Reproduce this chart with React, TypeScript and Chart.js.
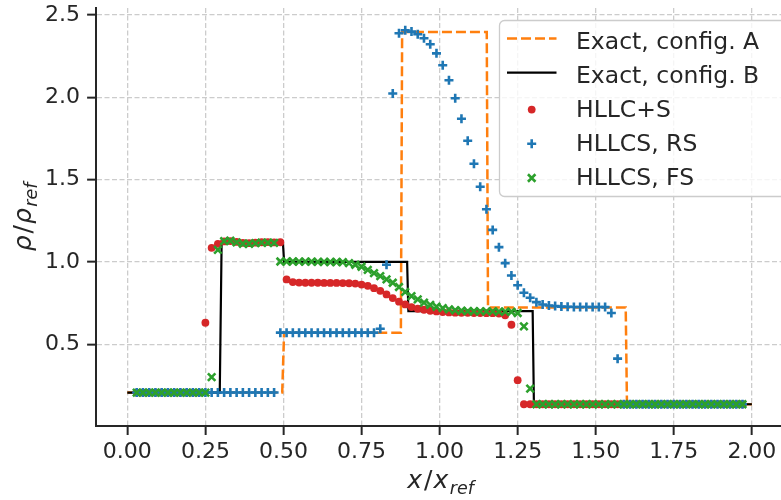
import React, { useEffect, useRef } from "react";
import { Chart, registerables } from "chart.js";

Chart.register(...registerables);

// Cell centres of the numerical grid
const cellX: number[] = [
  0.03, 0.05, 0.07, 0.09, 0.11, 0.13, 0.15, 0.17, 0.19, 0.21, 0.23, 0.25, 0.27, 0.29,
  0.31, 0.33, 0.35, 0.37, 0.39, 0.41, 0.43, 0.45, 0.47, 0.49, 0.51, 0.53, 0.55, 0.57,
  0.59, 0.61, 0.63, 0.65, 0.67, 0.69, 0.71, 0.73, 0.75, 0.77, 0.79, 0.81, 0.83, 0.85,
  0.87, 0.89, 0.91, 0.93, 0.95, 0.97, 0.99, 1.01, 1.03, 1.05, 1.07, 1.09, 1.11, 1.13,
  1.15, 1.17, 1.19, 1.21, 1.23, 1.25, 1.27, 1.29, 1.31, 1.33, 1.35, 1.37, 1.39, 1.41,
  1.43, 1.45, 1.47, 1.49, 1.51, 1.53, 1.55, 1.57, 1.59, 1.61, 1.63, 1.65, 1.67, 1.69,
  1.71, 1.73, 1.75, 1.77, 1.79, 1.81, 1.83, 1.85, 1.87, 1.89, 1.91, 1.93, 1.95, 1.97,
];

// HLLC+S density
const hllcS: number[] = [
  0.206, 0.206, 0.206, 0.206, 0.206, 0.206, 0.206, 0.206, 0.206, 0.206, 0.206, 0.63, 1.085, 1.109,
  1.124, 1.126, 1.121, 1.115, 1.113, 1.116, 1.119, 1.12, 1.118, 1.119, 0.893, 0.877, 0.874, 0.873,
  0.873, 0.873, 0.872, 0.872, 0.872, 0.871, 0.87, 0.868, 0.862, 0.854, 0.84, 0.824, 0.802, 0.78,
  0.758, 0.741, 0.725, 0.715, 0.709, 0.703, 0.699, 0.695, 0.693, 0.691, 0.69, 0.69, 0.689, 0.689,
  0.688, 0.688, 0.686, 0.675, 0.618, 0.281, 0.135, 0.135, 0.135, 0.135, 0.135, 0.135, 0.135, 0.135,
  0.135, 0.135, 0.135, 0.135, 0.135, 0.135, 0.135, 0.135, 0.135, 0.135, 0.135, 0.135, 0.135, 0.135,
  0.135, 0.135, 0.135, 0.135, 0.135, 0.135, 0.135, 0.135, 0.135, 0.135, 0.135, 0.135, 0.135, 0.135,
];

// HLLCS, RS density
const hllcsRS: number[] = [
  0.206, 0.206, 0.206, 0.206, 0.206, 0.206, 0.206, 0.206, 0.206, 0.206, 0.206, 0.206, 0.206, 0.206,
  0.206, 0.206, 0.206, 0.206, 0.206, 0.206, 0.206, 0.206, 0.206, 0.57, 0.57, 0.57, 0.57, 0.57,
  0.57, 0.57, 0.57, 0.57, 0.57, 0.57, 0.57, 0.57, 0.57, 0.57, 0.57, 0.594, 0.982, 2.022,
  2.388, 2.406, 2.398, 2.382, 2.358, 2.321, 2.266, 2.194, 2.103, 1.993, 1.869, 1.735, 1.596, 1.456,
  1.319, 1.194, 1.089, 0.992, 0.917, 0.858, 0.812, 0.782, 0.755, 0.741, 0.735, 0.731, 0.728, 0.727,
  0.726, 0.726, 0.726, 0.726, 0.726, 0.725, 0.689, 0.412, 0.135, 0.135, 0.135, 0.135, 0.135, 0.135,
  0.135, 0.135, 0.135, 0.135, 0.135, 0.135, 0.135, 0.135, 0.135, 0.135, 0.135, 0.135, 0.135, 0.135,
];

// HLLCS, FS density
const hllcsFS: number[] = [
  0.206, 0.206, 0.206, 0.206, 0.206, 0.206, 0.206, 0.206, 0.206, 0.206, 0.206, 0.206, 0.3, 1.073,
  1.126, 1.128, 1.118, 1.11, 1.11, 1.114, 1.117, 1.116, 1.115, 1.002, 1.002, 1.002, 1.001, 1.001,
  1.001, 1.0, 1.0, 0.999, 0.999, 0.998, 0.992, 0.982, 0.97, 0.951, 0.931, 0.913, 0.893, 0.873,
  0.847, 0.817, 0.792, 0.772, 0.752, 0.739, 0.727, 0.719, 0.711, 0.706, 0.703, 0.701, 0.7, 0.699,
  0.699, 0.699, 0.698, 0.698, 0.697, 0.689, 0.608, 0.23, 0.135, 0.135, 0.135, 0.135, 0.135, 0.135,
  0.135, 0.135, 0.135, 0.135, 0.135, 0.135, 0.135, 0.135, 0.135, 0.135, 0.135, 0.135, 0.135, 0.135,
  0.135, 0.135, 0.135, 0.135, 0.135, 0.135, 0.135, 0.135, 0.135, 0.135, 0.135, 0.135, 0.135, 0.135,
];

// Exact solutions (piecewise constant states)
const exactAX: number[] = [0, 0.496, 0.502, 0.876, 0.88, 1.151, 1.155, 1.596, 1.6, 2.0];
const exactAY: number[] = [0.206, 0.206, 0.57, 0.57, 2.395, 2.395, 0.723, 0.723, 0.135, 0.135];
const exactBX: number[] = [0, 0.296, 0.302, 0.498, 0.502, 0.896, 0.9, 1.298, 1.302, 2.0];
const exactBY: number[] = [0.206, 0.206, 1.125, 1.125, 1.0, 1.0, 0.7, 0.7, 0.135, 0.135];

const seriesLabels: string[] = [
  "Exact, config. A",
  "Exact, config. B",
  "HLLC+S",
  "HLLCS, RS",
  "HLLCS, FS",
];

const xTicks: number[] = [0, 0.25, 0.5, 0.75, 1.0, 1.25, 1.5, 1.75, 2.0];
const yTicks: number[] = [0.5, 1.0, 1.5, 2.0, 2.5];

const C_ORANGE = "#ff7f0e";
const C_BLACK = "#000000";
const C_RED = "#d62728";
const C_BLUE = "#1f77b4";
const C_GREEN = "#2ca02c";
const C_TEXT = "#262626";
const FONT = "DejaVu Sans";

const W = 800;
const H = 500;
const AREA = { left: 96.1, right: 783.1, top: 7, bottom: 426 };

const MARK = { dot: 3.9, plus: 4.5, cross: 5.3, stroke: 2.6 };

type Part = { t: string; italic: boolean; sub?: boolean; gap?: number };

function drawMath(ctx: CanvasRenderingContext2D, parts: Part[], size: number) {
  const fontOf = (p: Part) =>
    `${p.italic ? "italic " : ""}${p.sub ? size * 0.7 : size}px "${FONT}"`;
  const widths = parts.map((p) => {
    ctx.font = fontOf(p);
    return ctx.measureText(p.t).width + (p.gap || 0);
  });
  const total = widths.reduce((a, b) => a + b, 0);
  let x = -total / 2;
  ctx.textAlign = "left";
  ctx.textBaseline = "alphabetic";
  parts.forEach((p, i) => {
    ctx.font = fontOf(p);
    ctx.fillText(p.t, x, p.sub ? size * 0.25 : 0);
    x += widths[i];
  });
}

function drawMarker(ctx: CanvasRenderingContext2D, kind: string, cx: number, cy: number) {
  ctx.save();
  if (kind === "dot") {
    ctx.fillStyle = C_RED;
    ctx.beginPath();
    ctx.arc(cx, cy, MARK.dot, 0, Math.PI * 2);
    ctx.fill();
  } else {
    ctx.strokeStyle = kind === "plus" ? C_BLUE : C_GREEN;
    ctx.lineWidth = MARK.stroke;
    ctx.beginPath();
    if (kind === "plus") {
      const r = MARK.plus;
      ctx.moveTo(cx - r, cy);
      ctx.lineTo(cx + r, cy);
      ctx.moveTo(cx, cy - r);
      ctx.lineTo(cx, cy + r);
    } else {
      const r = MARK.cross * Math.SQRT1_2;
      ctx.moveTo(cx - r, cy - r);
      ctx.lineTo(cx + r, cy + r);
      ctx.moveTo(cx - r, cy + r);
      ctx.lineTo(cx + r, cy - r);
    }
    ctx.stroke();
  }
  ctx.restore();
}

const overlayPlugin = {
  id: "overlay",
  afterDraw(chart: Chart) {
    const ctx = chart.ctx;
    const area = chart.chartArea;
    ctx.save();
    ctx.fillStyle = C_TEXT;

    // x-axis title
    ctx.save();
    ctx.translate((area.left + area.right) / 2 + 1, 488);
    drawMath(ctx, [
      { t: "x", italic: true, gap: 2 },
      { t: "/", italic: false, gap: 1 },
      { t: "x", italic: true, gap: 1.5 },
      { t: "ref", italic: true, sub: true },
    ], 25);
    ctx.restore();

    // y-axis title
    ctx.save();
    ctx.translate(31, (area.top + area.bottom) / 2);
    ctx.rotate(-Math.PI / 2);
    drawMath(ctx, [
      { t: "ρ", italic: true, gap: 2 },
      { t: "/", italic: false, gap: 1 },
      { t: "ρ", italic: true, gap: 1.5 },
      { t: "ref", italic: true, sub: true },
    ], 25);
    ctx.restore();

    // legend box
    const bx = 499.5, by = 20.5, bw = 320, bh = 176, rr = 5;
    ctx.beginPath();
    ctx.moveTo(bx + rr, by);
    ctx.lineTo(bx + bw - rr, by);
    ctx.arcTo(bx + bw, by, bx + bw, by + rr, rr);
    ctx.lineTo(bx + bw, by + bh - rr);
    ctx.arcTo(bx + bw, by + bh, bx + bw - rr, by + bh, rr);
    ctx.lineTo(bx + rr, by + bh);
    ctx.arcTo(bx, by + bh, bx, by + bh - rr, rr);
    ctx.lineTo(bx, by + rr);
    ctx.arcTo(bx, by, bx + rr, by, rr);
    ctx.closePath();
    ctx.fillStyle = "rgba(255,255,255,0.8)";
    ctx.fill();
    ctx.lineWidth = 1.3;
    ctx.strokeStyle = "#cccccc";
    ctx.stroke();

    const pitch = 34.2;
    const capMid0 = 40.0;
    const hx0 = 507, hx1 = 556.5, hc = 531.7;
    seriesLabels.forEach((label, i) => {
      const mid = capMid0 + i * pitch;
      if (i === 0 || i === 1) {
        ctx.save();
        ctx.strokeStyle = i === 0 ? C_ORANGE : C_BLACK;
        ctx.lineWidth = i === 0 ? 2.5 : 2.2;
        ctx.setLineDash(i === 0 ? [10, 4] : []);
        ctx.beginPath();
        ctx.moveTo(hx0, mid - 1.5);
        ctx.lineTo(hx1, mid - 1.5);
        ctx.stroke();
        ctx.restore();
      } else {
        drawMarker(ctx, ["dot", "plus", "cross"][i - 2], hc, mid + 1.2);
      }
      ctx.fillStyle = C_TEXT;
      ctx.font = `23.5px "${FONT}"`;
      ctx.textAlign = "left";
      ctx.textBaseline = "alphabetic";
      ctx.fillText(label, 576, mid + 8.5);
    });

    ctx.restore();
  },
};

function pts(xs: number[], ys: number[]) {
  return xs.map((x, i) => ({ x, y: ys[i] }));
}

export default function App() {
  const canvasRef = useRef<HTMLCanvasElement | null>(null);

  useEffect(() => {
    const canvas = canvasRef.current;
    if (!canvas) return;
    Chart.defaults.font.family = FONT;

    const tickFont = { family: FONT, size: 22 };
    const gridCommon = {
      color: "#cccccc",
      lineWidth: 1.3,
      tickLength: 9,
      tickWidth: 2,
      tickColor: C_TEXT,
      tickBorderDash: [],
    };
    const borderCommon = { color: C_TEXT, width: 2, dash: [5, 2.5] };

    const chart = new Chart(canvas, {
      type: "scatter",
      data: {
        datasets: [
          {
            label: seriesLabels[0],
            data: pts(exactAX, exactAY),
            showLine: true,
            borderColor: C_ORANGE,
            borderWidth: 2.5,
            borderDash: [10, 4],
            pointRadius: 0,
            fill: false,
            order: 5,
          },
          {
            label: seriesLabels[1],
            data: pts(exactBX, exactBY),
            showLine: true,
            borderColor: C_BLACK,
            borderWidth: 2.2,
            pointRadius: 0,
            fill: false,
            order: 4,
          },
          {
            label: seriesLabels[2],
            data: pts(cellX, hllcS),
            pointStyle: "circle",
            pointRadius: MARK.dot,
            backgroundColor: C_RED,
            borderWidth: 0,
            order: 3,
          },
          {
            label: seriesLabels[3],
            data: pts(cellX, hllcsRS),
            pointStyle: "cross",
            pointRadius: MARK.plus,
            borderColor: C_BLUE,
            borderWidth: MARK.stroke,
            order: 2,
          },
          {
            label: seriesLabels[4],
            data: pts(cellX, hllcsFS),
            pointStyle: "crossRot",
            pointRadius: MARK.cross,
            borderColor: C_GREEN,
            borderWidth: MARK.stroke,
            order: 1,
          },
        ],
      },
      options: {
        responsive: false,
        animation: false,
        devicePixelRatio: 1,
        events: [],
        layout: {
          padding: { left: 0, top: AREA.top, right: W - AREA.right, bottom: 0 },
        },
        plugins: {
          legend: { display: false },
          tooltip: { enabled: false },
          title: { display: false },
        },
        scales: {
          x: {
            type: "linear",
            min: -0.1,
            max: 2.1,
            afterBuildTicks: (s: any) => {
              s.ticks = xTicks.map((v) => ({ value: v }));
            },
            afterFit: (s: any) => {
              s.height = H - AREA.bottom;
              s.paddingLeft = 0;
              s.paddingRight = 0;
            },
            ticks: {
              font: tickFont,
              color: C_TEXT,
              padding: 4,
              maxRotation: 0,
              autoSkip: false,
              callback: (v: any) => Number(v).toFixed(2),
            },
            grid: gridCommon,
            border: borderCommon,
          },
          y: {
            type: "linear",
            min: 0.003,
            max: 2.542,
            afterBuildTicks: (s: any) => {
              s.ticks = yTicks.map((v) => ({ value: v }));
            },
            afterFit: (s: any) => {
              s.width = AREA.left;
              s.paddingTop = 0;
              s.paddingBottom = 0;
            },
            ticks: {
              font: tickFont,
              color: C_TEXT,
              padding: 7,
              autoSkip: false,
              callback: (v: any) => Number(v).toFixed(1),
            },
            grid: gridCommon,
            border: borderCommon,
          },
        },
      } as any,
      plugins: [overlayPlugin as any],
    });

    return () => chart.destroy();
  }, []);

  return (
    <div
      style={{
        position: "fixed",
        left: 0,
        top: 0,
        width: 781,
        height: 500,
        overflow: "hidden",
        background: "#ffffff",
      }}
    >
      <canvas ref={canvasRef} width={W} height={H} style={{ display: "block" }} />
    </div>
  );
}
